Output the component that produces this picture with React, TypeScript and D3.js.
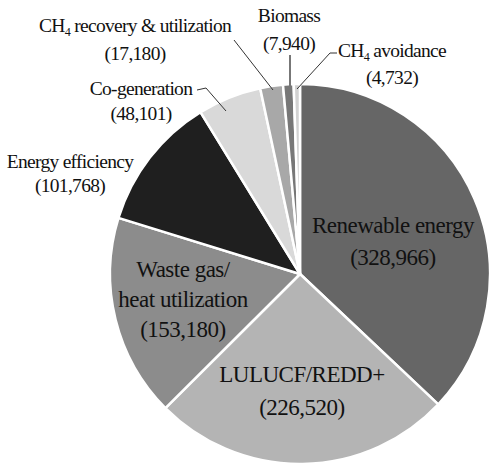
import React, { useEffect, useRef } from "react";
import * as d3 from "d3";

// values per category (going clockwise from 12 o'clock)
const categories = [
  "Renewable energy",
  "LULUCF/REDD+",
  "Waste gas/heat utilization",
  "Energy efficiency",
  "Co-generation",
  "CH4 recovery & utilization",
  "Biomass",
  "CH4 avoidance",
];
const values = [328966, 226520, 153180, 101768, 48101, 17180, 7940, 4732];
const valueLabels = ["(328,966)", "(226,520)", "(153,180)", "(101,768)", "(48,101)", "(17,180)", "(7,940)", "(4,732)"];
const fills = ["#666666", "#b4b4b4", "#8c8c8c", "#1f1f1f", "#d9d9d9", "#a8a8a8", "#777777", "#d2d2d2"];

const W = 493;
const H = 465;
const FONT = '"Liberation Serif", "Times New Roman", serif';

const App = () => {
  const ref = useRef<SVGSVGElement>(null);

  useEffect(() => {
    const svg = d3.select(ref.current);
    svg.selectAll("*").remove();

    const cx = 300;
    const cy = 274;
    const r = 190;

    const data = categories.map((c, i) => ({ name: c, value: values[i], fill: fills[i], label: valueLabels[i] }));
    const pie = d3.pie<any>().value((d) => d.value).sort(null);
    const arc = d3.arc<any>().innerRadius(0).outerRadius(r);
    const arcs = pie(data);

    const g = svg.append("g").attr("transform", `translate(${cx},${cy})`);
    g.selectAll("path")
      .data(arcs)
      .enter()
      .append("path")
      .attr("d", arc)
      .attr("fill", (d) => d.data.fill)
      .attr("stroke", "#fff")
      .attr("stroke-width", 2.5)
      .attr("stroke-linejoin", "round");

    const mkText = (size: number, ls: number) =>
      svg
        .append("text")
        .style("font-family", FONT)
        .style("font-size", size + "px")
        .style("letter-spacing", ls + "px")
        .attr("text-anchor", "middle")
        .attr("fill", "#111");

    // labels inside the pie
    const big = 23;
    const bigLs = -0.5;
    const inside: [number, number, number, string[]][] = [
      [393, 233, 32, [categories[0], valueLabels[0]]],
      [302, 382, 33, [categories[1], valueLabels[1]]],
      [183, 277, 30, ["Waste gas/", "heat utilization", valueLabels[2]]],
    ];
    inside.forEach(([x, y, step, lines]) => {
      const t = mkText(big, bigLs);
      lines.forEach((s, i) => t.append("tspan").attr("x", x).attr("y", y + i * step).text(s));
    });

    // labels outside
    const sm = 19.5;
    const smLs = -0.7;
    const addSmall = (x: number, y1: number, y2: number, l1: any, l2: string) => {
      const t = mkText(sm, smLs);
      const a = t.append("tspan").attr("x", x).attr("y", y1);
      if (typeof l1 === "string") a.text(l1);
      else {
        a.append("tspan").text(l1[0]);
        a.append("tspan").style("font-size", sm * 0.62 + "px").attr("dy", 4).text(l1[1]);
        a.append("tspan").attr("dy", -4).text(l1[2]);
      }
      t.append("tspan").attr("x", x).attr("y", y2).text(l2);
    };
    addSmall(70, 168, 192, categories[3], valueLabels[3]);
    addSmall(141, 95, 120, categories[4], valueLabels[4]);
    addSmall(135, 32, 60, ["CH", "4", " recovery & utilization"], valueLabels[5]);
    addSmall(289, 22, 50, categories[6], valueLabels[6]);
    addSmall(392, 57, 84, ["CH", "4", " avoidance"], valueLabels[7]);

    // leader lines
    const line = d3.line();
    const leaders: { pts: [number, number][]; color: string; w: number }[] = [
      { pts: [[197, 90], [206, 88], [226, 111]], color: "#333", w: 1 },
      { pts: [[234, 40], [273, 90]], color: "#333", w: 1 },
      { pts: [[290, 55], [290, 90]], color: "#777", w: 2 },
      { pts: [[337, 53], [330, 53], [297, 89]], color: "#333", w: 1 },
    ];
    leaders.forEach((l) => {
      svg
        .append("path")
        .attr("d", line(l.pts))
        .attr("fill", "none")
        .attr("stroke", l.color)
        .attr("stroke-width", l.w);
    });
  }, []);

  return (
    <div style={{ position: "absolute", left: 0, top: 0, background: "#fff" }}>
      <svg ref={ref} width={W} height={H} />
    </div>
  );
};

export default App;
